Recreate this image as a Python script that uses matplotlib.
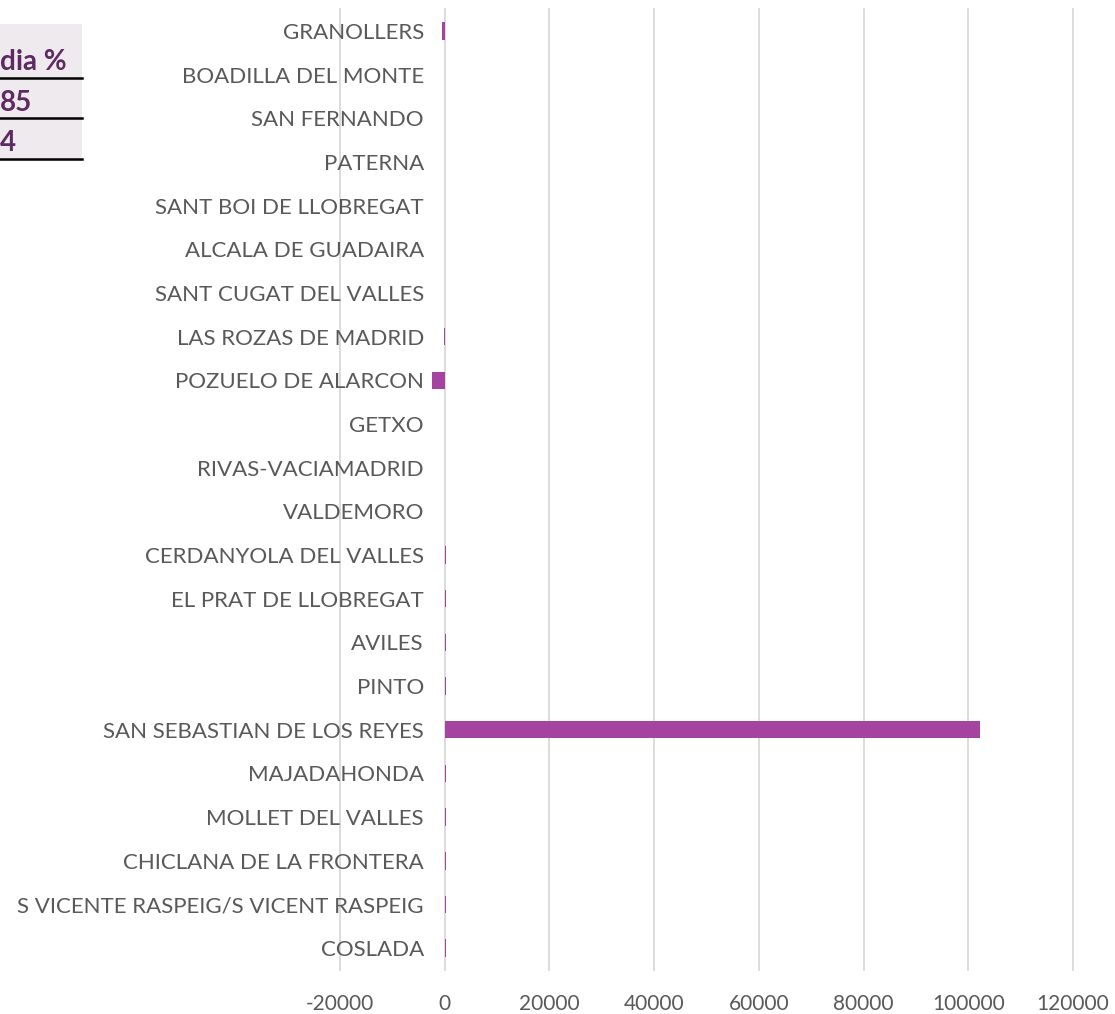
import matplotlib.pyplot as plt
from matplotlib.lines import Line2D
from matplotlib.patches import Rectangle

# municipalities, top to bottom as in the chart
municipios = ['GRANOLLERS', 'BOADILLA DEL MONTE', 'SAN FERNANDO', 'PATERNA',
              'SANT BOI DE LLOBREGAT', 'ALCALA DE GUADAIRA', 'SANT CUGAT DEL VALLES',
              'LAS ROZAS DE MADRID', 'POZUELO DE ALARCON', 'GETXO', 'RIVAS-VACIAMADRID',
              'VALDEMORO', 'CERDANYOLA DEL VALLES', 'EL PRAT DE LLOBREGAT', 'AVILES',
              'PINTO', 'SAN SEBASTIAN DE LOS REYES', 'MAJADAHONDA', 'MOLLET DEL VALLES',
              'CHICLANA DE LA FRONTERA', 'S VICENTE RASPEIG/S VICENT RASPEIG', 'COSLADA']
valores = [-500, 0, 0, 0, 0, 0, 0, -150, -2400, 0, 0, 0, 200, 200, 200, 200,
           102300, 200, 200, 200, 200, 200]

xticks = [-20000, 0, 20000, 40000, 60000, 80000, 100000, 120000]

# fragment of a table that overlaps the chart (top-left corner)
tabla_textos = ['dia %', '85', '4']

font = 'Lato'
gris = '#595959'
morado = '#A443A0'

fig = plt.figure(figsize=(11.15, 10.14), dpi=100)
W, H = 1115, 1014
ax = fig.add_axes([340 / W, 1 - 970 / H, (1073 - 340) / W, (970 - 9) / H])

# y axis sits at x=0 (labels overlap the negative part, like Excel)
for s in ['top', 'right', 'bottom']:
    ax.spines[s].set_visible(False)
ax.spines['left'].set_position(('data', 0))
ax.spines['left'].set_color('none')

pos = list(range(len(municipios)))
ax.barh(pos, valores, height=0.4, color=morado, zorder=3)
ax.set_ylim(len(municipios) - 0.5, -0.5)
ax.set_yticks(pos)
ax.set_yticklabels(municipios, fontfamily=font, fontsize=16, color=gris)
ax.set_xlim(-20000, 120000)
ax.set_xticks(xticks)
ax.set_xticklabels([str(v) for v in xticks], fontfamily=font, fontsize=15, color=gris)

ax.grid(axis='x', color='#DCDCDC', linewidth=1.4, zorder=0)
for g in ax.get_xgridlines():
    g.set_clip_on(False)
ax.set_axisbelow(True)
ax.tick_params(axis='y', length=0, pad=15)
ax.tick_params(axis='x', length=0, pad=17)

# table fragment
fig.patches.append(Rectangle((0, 1 - 161 / H), 82 / W, (161 - 24) / H,
                             transform=fig.transFigure, facecolor='#EEEAEE',
                             edgecolor='none', zorder=0))
for yl in [78, 118, 159]:
    fig.add_artist(Line2D([0, 82 / W], [1 - yl / H, 1 - yl / H], color='black',
                          linewidth=1.8, transform=fig.transFigure))
for txt, yc in zip(tabla_textos, [62, 103, 143]):
    fig.text(0, 1 - yc / H, txt, ha='left', va='center', fontfamily=font,
             fontweight='bold', fontsize=20, color='#5E2A62')

fig.savefig('out.png', dpi=100)
